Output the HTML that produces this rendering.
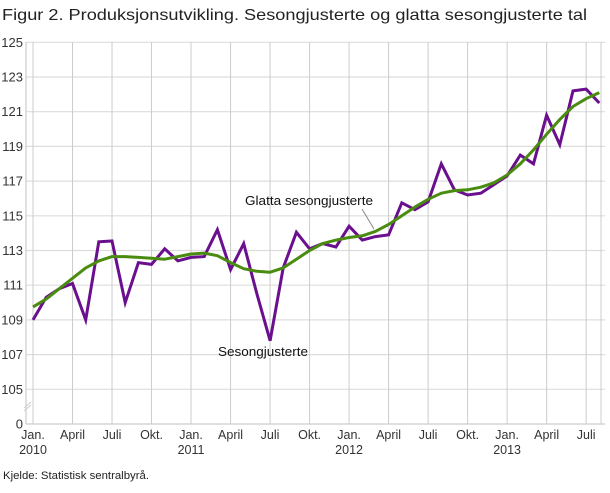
<!DOCTYPE html>
<html><head><meta charset="utf-8"><style>
body{margin:0;background:#fff;width:610px;height:488px;overflow:hidden}
svg{font-family:"Liberation Sans","DejaVu Sans",sans-serif}
</style></head><body>
<svg id="s" width="610" height="488" xmlns="http://www.w3.org/2000/svg">
<text x="2" y="20" font-size="16" fill="#222" textLength="585" lengthAdjust="spacingAndGlyphs">Figur 2. Produksjonsutvikling. Sesongjusterte og glatta sesongjusterte tal</text>
<g id="grid"></g>
<text x="245" y="205" font-size="13" fill="#111" textLength="128" lengthAdjust="spacingAndGlyphs">Glatta sesongjusterte</text>
<line x1="362" y1="209" x2="374" y2="229" stroke="#888" stroke-width="1"/>
<text x="218" y="356" font-size="13" fill="#111" textLength="90" lengthAdjust="spacingAndGlyphs">Sesongjusterte</text>
<text x="3" y="479" font-size="11" fill="#222" textLength="146" lengthAdjust="spacingAndGlyphs">Kjelde: Statistisk sentralbyrå.</text>
</svg>
<script>
var s=document.getElementById('grid'),h='';
function Y(v){return 42.3+(125-v)*17.35}
function X(i){return 33+i*13.17}
var ys=[125,123,121,119,117,115,113,111,109,107,105];
ys.forEach(function(v){var y=Y(v);h+='<line x1="26" y1="'+y+'" x2="605" y2="'+y+'" stroke="#ddd" stroke-width="1.2"/>';h+='<text x="23" y="'+(y+4.5)+'" font-size="13" fill="#333" text-anchor="end">'+v+'</text>';});
h+='<line x1="26" y1="424" x2="605" y2="424" stroke="#ccc" stroke-width="1.2"/><text x="23" y="428.5" font-size="13" fill="#333" text-anchor="end">0</text>';
var ml=['Jan.','April','Juli','Okt.'],yr=['2010','2011','2012','2013'];
for(var q=0;q<15;q++){var x=X(q*3);h+='<line x1="'+x+'" y1="42" x2="'+x+'" y2="424" stroke="#ccc" stroke-width="1"/>';h+='<text x="'+x+'" y="439" font-size="12.5" fill="#333" text-anchor="middle">'+ml[q%4]+'</text>';if(q%4==0)h+='<text x="'+x+'" y="454" font-size="12.5" fill="#333" text-anchor="middle">'+yr[q/4]+'</text>';}
h+='<line x1="601" y1="42" x2="601" y2="424" stroke="#ccc" stroke-width="1"/>';
h+='<line x1="26" y1="42" x2="26" y2="424" stroke="#ccc" stroke-width="1.2"/>';
h+='<line x1="24" y1="408" x2="31" y2="402" stroke="#ccc"/><line x1="24" y1="411" x2="31" y2="405" stroke="#ccc"/>';
var p=[109.0,110.3,110.8,111.1,109.0,113.5,113.55,110.0,112.3,112.2,113.1,112.4,112.6,112.65,114.2,111.9,113.4,110.5,107.8,112.0,114.05,113.1,113.4,113.2,114.4,113.6,113.8,113.9,115.75,115.35,115.8,118.0,116.5,116.2,116.3,116.8,117.3,118.5,118.0,120.8,119.1,122.2,122.3,121.5];
var g=[109.75,110.2,110.8,111.4,112.0,112.4,112.65,112.65,112.6,112.55,112.5,112.65,112.8,112.85,112.7,112.3,111.95,111.8,111.75,112.0,112.5,113.0,113.4,113.6,113.75,113.85,114.1,114.5,115.0,115.5,115.95,116.3,116.45,116.5,116.65,116.9,117.35,118.0,118.8,119.7,120.55,121.3,121.75,122.1];
function pts(a){return a.map(function(v,i){return X(i).toFixed(1)+','+Y(v).toFixed(1)}).join(' ')}
h+='<polyline points="'+pts(p)+'" fill="none" stroke="#6a0f8e" stroke-width="3" stroke-linejoin="miter"/>';
h+='<polyline points="'+pts(g)+'" fill="none" stroke="#4a8c10" stroke-width="3" stroke-linejoin="round"/>';
s.innerHTML=h;
</script>
</body></html>
